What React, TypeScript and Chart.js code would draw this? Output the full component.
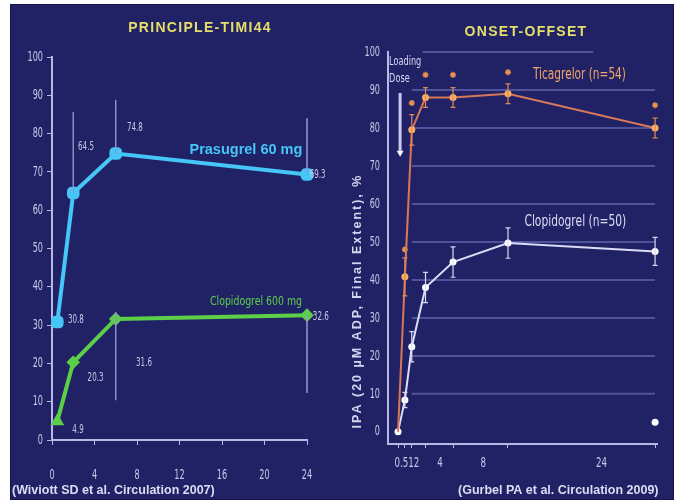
import React, { useEffect, useRef } from "react";
import { Chart, registerables } from "chart.js";
Chart.register(...registerables);

const NARROW = '"Liberation Sans Narrow", "DejaVu Sans", sans-serif';
const SANS = '"Liberation Sans", Arial, sans-serif';
const BG = "#212266";
const AXIS = "#b8b8e4";
const TICK_TXT = "#c8c8e8";

// ---------- Left panel: PRINCIPLE-TIMI44 ----------
const PT_HOURS = [0.5, 2, 6, 24];
const PRASUGREL = [30.8, 64.5, 74.8, 69.3];
const CLOPIDOGREL_600 = [4.9, 20.3, 31.6, 32.6];
const LEFT_X_TICKS = [0, 4, 8, 12, 16, 20, 24];
const LEFT_Y_TICKS = [0, 10, 20, 30, 40, 50, 60, 70, 80, 90, 100];
// guide lines: [x, yFrom, yTo]
const LEFT_GUIDES = [
  [2, 85.6, 64.5],
  [6, 88.8, 74.8],
  [6, 33.4, 10.4],
  [24, 84, 70],
  [24, 32.6, 12.3],
];
const LEFT_LABELS = [
  { text: "64.5", x: 3.2, y: 76.5 },
  { text: "74.8", x: 7.8, y: 81.5 },
  { text: "69.3", x: 25.0, y: 69.2 },
  { text: "30.8", x: 2.25, y: 31.3 },
  { text: "20.3", x: 4.1, y: 16.2 },
  { text: "31.6", x: 8.66, y: 20.1 },
  { text: "4.9", x: 2.45, y: 2.6 },
  { text: "32.6", x: 25.3, y: 32.1 },
];

// ---------- Right panel: ONSET-OFFSET ----------
const OO_HOURS = [0, 0.5, 1, 2, 4, 8, 18.7];
const TICAGRELOR = [0, 40.8, 79.5, 88, 88, 89, 80];
const TICAGRELOR_ERR = [0, 5, 4, 2.6, 2.6, 2.6, 2.6];
const TICAGRELOR_STARS = [null, 48, 86.6, 94, 94, 94.7, 86];
const CLOPIDOGREL_300 = [0, 8.4, 22.4, 38, 44.7, 49.7, 47.5];
const CLOPIDOGREL_ERR = [0, 2, 4, 4, 4, 4, 3.7];
const OFFSET_EXTRA_X = [18.7];
const OFFSET_EXTRA_Y = [2.5];
const RIGHT_Y_TICKS = [0, 10, 20, 30, 40, 50, 60, 70, 80, 90, 100];
const RIGHT_X_LABELS = [
  { text: "0.512", x: 0.65 },
  { text: "4", x: 3.05 },
  { text: "8", x: 6.2 },
  { text: "24", x: 14.8 },
];

type AnyChart = any;

function cText(ctx: CanvasRenderingContext2D, text: string, x: number, y: number, sx: number, align: CanvasTextAlign = "center") {
  ctx.save();
  ctx.translate(x, y);
  ctx.scale(sx, 1);
  ctx.textAlign = align;
  ctx.textBaseline = "middle";
  ctx.fillText(text, 0, 0);
  ctx.restore();
}

const errorBars = {
  id: "errorBars",
  afterDatasetsDraw(chart: AnyChart) {
    const ctx = chart.ctx;
    const ys = chart.scales.y;
    chart.data.datasets.forEach((ds: any, i: number) => {
      if (!ds.errors) return;
      const meta = chart.getDatasetMeta(i);
      ctx.save();
      ctx.strokeStyle = ds.errorColor;
      ctx.lineWidth = 1.2;
      meta.data.forEach((pt: any, j: number) => {
        const e = ds.errors[j];
        if (!e) return;
        const v = ds.data[j].y;
        const y1 = ys.getPixelForValue(v + e);
        const y2 = ys.getPixelForValue(v - e);
        ctx.beginPath();
        ctx.moveTo(pt.x, y1);
        ctx.lineTo(pt.x, y2);
        ctx.moveTo(pt.x - 2.5, y1);
        ctx.lineTo(pt.x + 2.5, y1);
        ctx.moveTo(pt.x - 2.5, y2);
        ctx.lineTo(pt.x + 2.5, y2);
        ctx.stroke();
      });
      ctx.restore();
    });
  },
};

function leftConfig(): any {
  const guideSets = LEFT_GUIDES.map((g) => ({
    type: "line",
    data: [
      { x: g[0], y: g[1] },
      { x: g[0], y: g[2] },
    ],
    borderColor: "rgba(150,150,210,0.75)",
    borderWidth: 1,
    pointRadius: 0,
    clip: false,
  }));
  const texts = {
    id: "leftTexts",
    afterDatasetsDraw(chart: AnyChart) {
      const ctx = chart.ctx;
      const xs = chart.scales.x;
      const ys = chart.scales.y;
      ctx.save();
      // tick labels
      ctx.font = `14px ${NARROW}`;
      ctx.fillStyle = TICK_TXT;
      LEFT_Y_TICKS.forEach((v) => cText(ctx, String(v), xs.left - 9, ys.getPixelForValue(v), 0.58, "right"));
      LEFT_X_TICKS.forEach((v) => cText(ctx, String(v), xs.getPixelForValue(v), 475, 0.58));
      // value labels
      ctx.font = `13px ${NARROW}`;
      ctx.fillStyle = "#c8c8e6";
      LEFT_LABELS.forEach((l) => cText(ctx, l.text, xs.getPixelForValue(l.x), ys.getPixelForValue(l.y), 0.55));
      ctx.textBaseline = "middle";
      ctx.textAlign = "center";
      ctx.font = `bold 14.5px ${SANS}`;
      ctx.fillStyle = "#46c6f6";
      ctx.fillText("Prasugrel 60 mg", xs.getPixelForValue(18.25), ys.getPixelForValue(75.7));
      ctx.font = `13px ${NARROW}`;
      ctx.fillStyle = "#5ccf48";
      cText(ctx, "Clopidogrel 600 mg", xs.getPixelForValue(19.2), ys.getPixelForValue(36), 0.72);
      ctx.font = `bold 14px ${SANS}`;
      (ctx as any).letterSpacing = "1.3px";
      ctx.fillStyle = "#e6de6a";
      ctx.fillText("PRINCIPLE-TIMI44", 200, 28);
      (ctx as any).letterSpacing = "0px";
      ctx.font = `bold 12.5px ${SANS}`;
      ctx.fillStyle = "#dcdcf2";
      ctx.textAlign = "left";
      ctx.fillText("(Wiviott SD et al. Circulation 2007)", 12, 491);
      ctx.restore();
    },
  };
  return {
    type: "line",
    data: {
      datasets: [
        ...guideSets,
        {
          label: "Prasugrel 60 mg",
          data: PT_HOURS.map((h, i) => ({ x: h, y: PRASUGREL[i] })),
          borderColor: "#46c6f6",
          backgroundColor: "#46c6f6",
          borderWidth: 4,
          pointStyle: "rectRounded",
          pointRadius: 5,
          clip: false,
        },
        {
          label: "Clopidogrel 600 mg",
          data: PT_HOURS.map((h, i) => ({ x: h, y: CLOPIDOGREL_600[i] })),
          borderColor: "#5ccf48",
          backgroundColor: "#5ccf48",
          borderWidth: 4,
          pointStyle: ["triangle", "rectRot", "rectRot", "rectRot"],
          pointRadius: 4,
          clip: false,
        },
      ],
    },
    options: {
      responsive: false,
      animation: false,
      layout: { padding: { left: 0, right: 33, top: 57, bottom: 10 } },
      plugins: { legend: { display: false }, tooltip: { enabled: false } },
      scales: {
        x: {
          type: "linear",
          min: 0,
          max: 24,
          afterBuildTicks: (s: any) => {
            s.ticks = LEFT_X_TICKS.map((v) => ({ value: v }));
          },
          afterFit: (s: any) => {
            s.height = 50;
          },
          border: { display: true, color: AXIS, width: 2 },
          grid: { display: true, drawOnChartArea: false, drawTicks: true, tickLength: 5, tickColor: AXIS },
          ticks: { display: false },
        },
        y: {
          type: "linear",
          min: 0,
          max: 100,
          afterBuildTicks: (s: any) => {
            s.ticks = LEFT_Y_TICKS.map((v) => ({ value: v }));
          },
          afterFit: (s: any) => {
            s.width = 52;
          },
          border: { display: true, color: AXIS, width: 2 },
          grid: { display: true, drawOnChartArea: false, drawTicks: true, tickLength: 5, tickColor: AXIS },
          ticks: { display: false },
        },
      },
    },
    plugins: [texts],
  };
}

function rightConfig(): any {
  const deco = {
    id: "rightDeco",
    beforeDatasetsDraw(chart: AnyChart) {
      const ctx = chart.ctx;
      const xs = chart.scales.x;
      const ys = chart.scales.y;
      ctx.save();
      ctx.strokeStyle = "rgba(120,122,200,0.55)";
      ctx.lineWidth = 2;
      RIGHT_Y_TICKS.forEach((v) => {
        if (v === 0) return;
        const y = ys.getPixelForValue(v);
        const x0 = xs.getPixelForValue(v === 100 ? 1.8 : 1.0);
        const x1 = xs.getPixelForValue(v === 100 ? 14.2 : 18.7);
        ctx.beginPath();
        ctx.moveTo(x0, y);
        ctx.lineTo(x1, y);
        ctx.stroke();
      });
      // loading dose arrow
      const ax = xs.getPixelForValue(0.15);
      const ay0 = ys.getPixelForValue(89.2);
      const ay1 = ys.getPixelForValue(72.4);
      ctx.strokeStyle = "#c8c8f0";
      ctx.lineWidth = 3;
      ctx.beginPath();
      ctx.moveTo(ax, ay0);
      ctx.lineTo(ax, ay1 - 5);
      ctx.stroke();
      ctx.fillStyle = "#f4f4ff";
      ctx.beginPath();
      ctx.moveTo(ax - 3.5, ay1 - 6);
      ctx.lineTo(ax + 3.5, ay1 - 6);
      ctx.lineTo(ax, ay1);
      ctx.closePath();
      ctx.fill();
      ctx.restore();
    },
    afterDatasetsDraw(chart: AnyChart) {
      const ctx = chart.ctx;
      const xs = chart.scales.x;
      const ys = chart.scales.y;
      ctx.save();
      ctx.font = `14px ${NARROW}`;
      ctx.fillStyle = TICK_TXT;
      RIGHT_Y_TICKS.forEach((v) => cText(ctx, String(v), xs.left - 8, ys.getPixelForValue(v), 0.58, "right"));
      const ly = ys.getPixelForValue(-3.2) + 19;
      RIGHT_X_LABELS.forEach((l) => cText(ctx, l.text, xs.getPixelForValue(l.x), ly, 0.62));
      ctx.font = `16px ${NARROW}`;
      ctx.fillStyle = "#f0a468";
      cText(ctx, "Ticagrelor (n=54)", xs.getPixelForValue(13.2), ys.getPixelForValue(94), 0.66);
      ctx.fillStyle = "#dcdcf4";
      cText(ctx, "Clopidogrel (n=50)", xs.getPixelForValue(12.9), ys.getPixelForValue(55.3), 0.67);
      ctx.font = `12px ${NARROW}`;
      ctx.fillStyle = "#d8d8f4";
      cText(ctx, "Loading", xs.getPixelForValue(-0.65), ys.getPixelForValue(97.4), 0.68, "left");
      cText(ctx, "Dose", xs.getPixelForValue(-0.65), ys.getPixelForValue(92.9), 0.68, "left");
      ctx.textBaseline = "middle";
      ctx.textAlign = "center";
      ctx.font = `bold 14px ${SANS}`;
      (ctx as any).letterSpacing = "1.3px";
      ctx.fillStyle = "#e6de6a";
      ctx.fillText("ONSET-OFFSET", 186, 32);
      (ctx as any).letterSpacing = "0px";
      ctx.font = `bold 12.5px ${SANS}`;
      ctx.fillStyle = "#dcdcf2";
      ctx.textAlign = "left";
      ctx.fillText("(Gurbel PA et al. Circulation 2009)", 118, 491);
      ctx.translate(18, 301);
      ctx.rotate(-Math.PI / 2);
      ctx.textAlign = "center";
      ctx.font = `bold 12.5px ${SANS}`;
      (ctx as any).letterSpacing = "2px";
      ctx.fillStyle = "#d4d4f0";
      ctx.fillText("IPA (20 µM ADP, Final Extent), %", 0, 0);
      ctx.restore();
    },
  };
  return {
    type: "line",
    data: {
      datasets: [
        {
          label: "Ticagrelor (n=54)",
          data: OO_HOURS.map((h, i) => ({ x: h, y: TICAGRELOR[i] })),
          errors: TICAGRELOR_ERR,
          errorColor: "#e0885a",
          borderColor: "#d8785a",
          backgroundColor: "#f8b060",
          borderWidth: 2,
          pointRadius: [0, 3.5, 3.5, 3.5, 3.5, 3.5, 3.5],
          pointBorderWidth: 0,
          clip: false,
        },
        {
          label: "stars",
          data: OO_HOURS.map((h, i) => ({ x: h, y: TICAGRELOR_STARS[i] })),
          showLine: false,
          pointStyle: "star",
          pointRadius: 3,
          borderColor: "#e89050",
          borderWidth: 1.5,
          clip: false,
        },
        {
          label: "Clopidogrel (n=50)",
          data: OO_HOURS.map((h, i) => ({ x: h, y: CLOPIDOGREL_300[i] })),
          errors: CLOPIDOGREL_ERR,
          errorColor: "#d8d8f4",
          borderColor: "#dcdcf4",
          backgroundColor: "#ffffff",
          borderWidth: 2,
          pointRadius: 3.5,
          pointBorderWidth: 0,
          clip: false,
        },
        {
          label: "offset",
          data: OFFSET_EXTRA_X.map((h, i) => ({ x: h, y: OFFSET_EXTRA_Y[i] })),
          showLine: false,
          backgroundColor: "#ffffff",
          pointRadius: 3.5,
          pointBorderWidth: 0,
          clip: false,
        },
      ],
    },
    options: {
      responsive: false,
      animation: false,
      layout: { padding: { left: 0, right: 17, top: 52, bottom: 10 } },
      plugins: { legend: { display: false }, tooltip: { enabled: false } },
      scales: {
        x: {
          type: "linear",
          min: -0.73,
          max: 18.84,
          afterBuildTicks: (s: any) => {
            s.ticks = OO_HOURS.map((v) => ({ value: v }));
          },
          afterFit: (s: any) => {
            s.height = 46;
          },
          border: { display: true, color: AXIS, width: 2 },
          grid: { display: true, drawOnChartArea: false, drawTicks: true, tickLength: 4, tickColor: AXIS },
          ticks: { display: false },
        },
        y: {
          type: "linear",
          min: -3.2,
          max: 100,
          afterBuildTicks: (s: any) => {
            s.ticks = RIGHT_Y_TICKS.map((v) => ({ value: v }));
          },
          afterFit: (s: any) => {
            s.width = 48;
          },
          border: { display: true, color: AXIS, width: 2 },
          grid: { display: false, drawTicks: false },
          ticks: { display: false },
        },
      },
    },
    plugins: [errorBars, deco],
  };
}

function Panel({ left, width, make }: { left: number; width: number; make: () => any }) {
  const ref = useRef<HTMLCanvasElement | null>(null);
  useEffect(() => {
    if (!ref.current) return;
    const chart = new Chart(ref.current, make());
    return () => chart.destroy();
  }, []);
  return (
    <canvas
      ref={ref}
      width={width}
      height={500}
      style={{ position: "absolute", left, top: 0, width, height: 500 }}
    />
  );
}

export default function App() {
  useEffect(() => {
    document.body.style.margin = "0";
  }, []);
  return (
    <div style={{ position: "relative", width: 674, height: 500, background: "#ffffff", overflow: "hidden" }}>
      <div
        style={{
          position: "absolute",
          left: 10,
          top: 4,
          width: 664,
          height: 496,
          background: BG,
          boxSizing: "border-box",
          border: "1px solid #14154a",
        }}
      />
      <Panel left={0} width={340} make={leftConfig} />
      <Panel left={340} width={334} make={rightConfig} />
    </div>
  );
}
